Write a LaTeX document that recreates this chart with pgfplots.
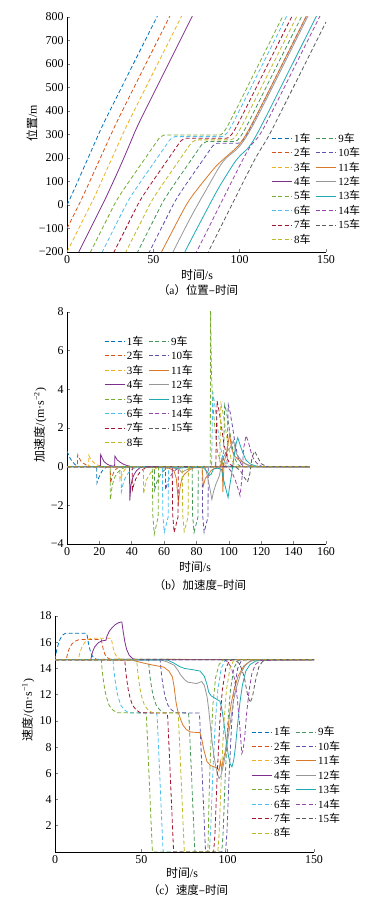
\documentclass[border=0pt]{standalone}
\usepackage{fontspec}
\setmainfont{Liberation Serif}
\newfontfamily\cjk{Noto Sans CJK SC}
\usepackage{pgfplots}
\pgfplotsset{compat=1.18}
\definecolor{C1}{RGB}{0,114,189}
\definecolor{C2}{RGB}{217,83,25}
\definecolor{C3}{RGB}{237,177,32}
\definecolor{C4}{RGB}{126,47,142}
\definecolor{C5}{RGB}{119,172,48}
\definecolor{C6}{RGB}{77,190,238}
\definecolor{C7}{RGB}{162,20,47}
\definecolor{C8}{RGB}{190,185,40}
\definecolor{C9}{RGB}{70,150,90}
\definecolor{C10}{RGB}{100,80,170}
\definecolor{C11}{RGB}{217,120,40}
\definecolor{C12}{RGB}{150,150,150}
\definecolor{C13}{RGB}{30,170,180}
\definecolor{C14}{RGB}{150,70,170}
\definecolor{C15}{RGB}{90,90,90}
\newcommand\che{{\cjk 车}}
\tikzset{
 dsh/.style={line width=0.8bp, dash pattern=on 4bp off 2.5bp},
 sld/.style={line width=0.8bp, solid},
 s1/.style={C1,dsh}, s2/.style={C2,dsh}, s3/.style={C3,dsh}, s4/.style={C4,sld},
 s5/.style={C5,dsh}, s6/.style={C6,dsh}, s7/.style={C7,dsh}, s8/.style={C8,dsh},
 s9/.style={C9,dsh}, s10/.style={C10,dsh}, s11/.style={C11,sld}, s12/.style={C12,sld},
 s13/.style={C13,sld}, s14/.style={C14,dsh}, s15/.style={C15,dsh}
}
\pgfplotsset{myax/.style={
 scale only axis, anchor=south west,
 axis lines*=left, axis line style={-, line width=0.6bp},
 tick align=inside, major tick length=3bp, tick style={line width=0.6bp},
 enlargelimits=false,
 tick label style={font=\fontsize{12}{13}\selectfont},
 /pgf/number format/assume math mode=true,
 legend columns=2,
 legend style={draw=none, fill=none, font=\fontsize{11}{12.5}\selectfont,
   /tikz/every even column/.append style={column sep=3bp},
   row sep=-0.3bp, inner sep=1bp, cells={anchor=west}},
 legend image code/.code={\draw[##1] (0bp,0bp) -- (20bp,0bp);},
}}
\begin{document}
\begin{tikzpicture}
\useasboundingbox (0,0) rectangle (378bp,912bp);
% ---------------- (a) position
\begin{axis}[myax, at={(67bp,660bp)}, width=259bp, height=235bp,
 xmin=0, xmax=150, ymin=-200, ymax=800,
 xtick={0,50,100,150},
 ytick={-200,-100,0,100,200,300,400,500,600,700,800},
 yticklabels={−200,−100,0,100,200,300,400,500,600,700,800},
 legend style={at={(0.784,0.52)}, anchor=north west}]
\addplot[s1] coordinates {(0,0)(1,15)(2,30.7)(3,46.8)(4.5,71.4)(6,96.3)(18.4,303.1)(20.4,335)(22.5,366.6)(24,388.7)(55,843.5)};
\addlegendentry{1\che}
\addplot[s9] coordinates {(0,-800)(54.1,-6.8)(55.1,7.1)(56.1,20)(57.1,32.1)(58.6,49.3)(60.6,71.4)(63.1,98.3)(77.3,249.4)(77.6,252.6)(78.5,260.6)(80.9,270)(96.6,270)(97.4,270.6)(98.6,275)(100.1,286.7)(101.6,303.3)(103.6,329.7)(105.6,358.3)(107.6,387.5)(150,1009.5)};
\addlegendentry{9\che}
\addplot[s2] coordinates {(0,-100)(6.5,-4.6)(7.5,10.4)(8.5,25.8)(10,49.4)(12,81.4)(14,113.7)(26.8,321.1)(28.8,352.3)(32,399.9)(62,840)};
\addlegendentry{2\che}
\addplot[s10] coordinates {(0,-900)(60.9,-6.8)(61.9,7.1)(62.9,20)(63.9,32.1)(65.4,49.3)(67.4,71.4)(69.9,98.3)(83.5,242.4)(83.8,245.6)(84.7,253.6)(87.1,263)(98.8,263)(99.6,263.6)(100.8,268)(102.3,279.7)(103.8,296.3)(105.8,322.7)(107.8,351.3)(109.8,380.5)(150,970.2)};
\addlegendentry{10\che}
\addplot[s3] coordinates {(0,-200)(13.4,-3.4)(14.4,11.5)(15.5,28.4)(17,52.1)(19,84.3)(21,116.8)(32.6,305.9)(34.6,337.3)(36,358.3)(38,387.9)(70,857.3)};
\addlegendentry{3\che}
\addplot[s11] coordinates {(0,-1000)(45,-341)(50,-268.3)(55,-196.4)(63,-82.8)(66,-41)(68,-13.8)(69,-0.8)(70,11.2)(71,22.4)(72.5,38.1)(74,53)(76,72.1)(78.5,95.2)(84,145.4)(86.2,164.1)(88,177.3)(90,190.8)(92,203.9)(94,216.8)(96.5,232.9)(98.5,246.9)(100,259.4)(102,279.9)(103.6,298.8)(106,329.6)(109.4,376.5)(113,428.3)(116,472.1)(150,970.9)};
\addlegendentry{11\che}
\addplot[s4] coordinates {(0,-300)(20.7,3.7)(21.7,18.7)(23,38.8)(25,70.4)(27,102.4)(29.5,142.7)(31.5,175.8)(33,201.3)(35,235.7)(37,270.6)(38.7,300.4)(39.5,314.1)(40.5,330.5)(41.5,346.2)(43,369)(45,398.8)(47,428.2)(75,839)};
\addlegendentry{4\che}
\addplot[s12] coordinates {(0,-1100)(61,-205.7)(65,-147.4)(69,-89.9)(71,-61.8)(72.8,-37.1)(75,-7.8)(77,18.3)(82,82.8)(85,121.6)(86.5,140.9)(88,159.3)(89,170.7)(90,181)(91,190)(92,197.9)(93,204.9)(94,211.2)(95,217)(96,222.7)(97,228.7)(98.5,238.9)(100,250.8)(102,269.6)(103.5,286)(105,304.1)(107.5,336.7)(110,371.4)(113,414.5)(116,458.3)(150,957.1)};
\addlegendentry{12\che}
\addplot[s5] coordinates {(0,-400)(26.8,-6.8)(27.8,7.1)(28.8,20)(29.8,32.1)(31.3,49.3)(33.3,71.4)(35.8,98.3)(52.7,277.4)(53,280.6)(53.9,288.6)(56.3,298)(88.5,298)(89.2,299.3)(90,303.9)(91.5,318)(93,336.4)(95,364)(97,392.9)(99,422.2)(150,1170.4)};
\addlegendentry{5\che}
\addplot[s13] coordinates {(0,-1200)(65,-247.1)(69,-189)(72,-146.2)(75,-104)(80,-34.3)(84,21.2)(86.5,55.2)(88,74.8)(89,87.3)(90.5,105.4)(93,134.9)(95.5,163.9)(96.5,175.2)(97.7,187.8)(99,199.9)(100.5,211.8)(101.5,218.8)(102.5,225.4)(103.5,232.1)(104.5,239.6)(105.5,248.3)(107,263.8)(108.5,281.8)(110.5,308.3)(113,343.4)(116,386.7)(120,445.1)(150,885.2)};
\addlegendentry{13\che}
\addplot[s6] coordinates {(0,-500)(33.6,-6.8)(34.6,7.1)(35.6,20)(36.6,32.1)(38.1,49.3)(40.1,71.4)(42.6,98.3)(58.9,270.4)(59.2,273.6)(60.1,281.6)(62.5,291)(89.3,291)(90.1,291.6)(91.3,296)(92.8,307.7)(94.3,324.3)(96.3,350.7)(98.3,379.3)(100.3,408.5)(150,1137.6)};
\addlegendentry{6\che}
\addplot[s14] coordinates {(0,-1300)(98,137.7)(100,166.9)(102,195.5)(104,222.8)(105.5,241.5)(107,257.6)(108.2,267.8)(109,273.9)(110,282.3)(111,292.1)(112.5,309.4)(114,328.9)(116,356.8)(119,400.2)(150,855)};
\addlegendentry{14\che}
\addplot[s7] coordinates {(0,-600)(40.4,-7)(41.4,6.9)(42.4,19.8)(43.4,31.9)(44.9,49.1)(46.9,71.2)(49.4,98.1)(65,263.4)(65.3,266.6)(66.2,274.6)(68.6,284)(91.9,284)(92.7,284.6)(93.9,289)(95.4,300.7)(96.9,317.3)(98.9,343.7)(100.9,372.3)(102.9,401.5)(150,1092.4)};
\addlegendentry{7\che}
\addplot[s15] coordinates {(0,-1400)(104,125.7)(107,169.2)(109.5,203.9)(111.5,229.3)(113,246.9)(114.3,262)(116,283.1)(118,310.2)(120,338.8)(123,382.6)(150,778.7)};
\addlegendentry{15\che}
\addplot[s8] coordinates {(0,-700)(47.3,-6.8)(48.3,7.1)(49.3,20)(50.3,32.1)(51.8,49.3)(53.8,71.4)(56.3,98.3)(71.2,256.4)(71.5,259.6)(72.4,267.6)(74.8,277)(94.3,277)(95.1,277.6)(96.3,282)(97.8,293.7)(99.3,310.3)(101.3,336.7)(103.3,365.3)(105.3,394.5)(150,1050.2)};
\addlegendentry{8\che}
\end{axis}
% ---------------- (b) acceleration
\begin{axis}[myax, at={(67bp,368bp)}, width=259bp, height=232bp,
 xmin=0, xmax=160, ymin=-4, ymax=8,
 xtick={0,20,40,60,80,100,120,140,160},
 ytick={-4,-2,0,2,4,6,8},
 yticklabels={−4,−2,0,2,4,6,8},
 legend style={at={(0.139,0.91)}, anchor=north west}]
\addplot[s1] coordinates {(0,0.8)(1,0.6)(2,0.42)(3,0.3)(4.5,0.15)(6,0.03)(8,0)(18.3,0)(18.5,-0.85)(19.5,-0.6)(20.5,-0.4)(21.5,-0.25)(23,-0.1)(25,0)(150,0)};
\addlegendentry{1\che}
\addplot[s9] coordinates {(0,0)(54,0)(54.1,-1.2)(54.6,-1.05)(55.1,-0.9)(56.1,-0.65)(57.1,-0.5)(58.6,-0.3)(60.6,-0.15)(63.1,-0.03)(64.1,0)(77.3,0)(77.6,-2.5)(78.5,-3.4)(80.9,-2.6)(81.1,0)(96.6,0)(97.4,3.2)(98.6,2.8)(100.1,2.05)(101.6,1.2)(103.6,0.44)(105.6,0.11)(107.6,0)(150,0)};
\addlegendentry{9\che}
\addplot[s2] coordinates {(0,0)(6.4,0)(6.6,0.62)(7.5,0.45)(8.5,0.3)(10,0.18)(12,0.08)(14,0.02)(16,0)(26.7,0)(26.9,-0.85)(27.8,-0.55)(28.8,-0.3)(30,-0.15)(32,-0.02)(33,0)(150,0)};
\addlegendentry{2\che}
\addplot[s10] coordinates {(0,0)(60.8,0)(60.9,-1.2)(61.4,-1.05)(61.9,-0.9)(62.9,-0.65)(63.9,-0.5)(65.4,-0.3)(67.4,-0.15)(69.9,-0.03)(70.9,0)(83.5,0)(83.8,-2.5)(84.7,-3.4)(87.1,-2.6)(87.3,0)(98.8,0)(99.6,3.2)(100.8,2.8)(102.3,2.05)(103.8,1.2)(105.8,0.44)(107.8,0.11)(109.8,0)(150,0)};
\addlegendentry{10\che}
\addplot[s3] coordinates {(0,0)(13.3,0)(13.5,0.58)(14.4,0.42)(15.5,0.3)(17,0.18)(19,0.08)(21,0.02)(23,0)(32.5,0)(32.7,-0.7)(33.6,-0.5)(34.6,-0.3)(36,-0.12)(38,-0.02)(39,0)(150,0)};
\addlegendentry{3\che}
\addplot[s11] coordinates {(0,0)(45,-0.02)(50,-0.05)(55,-0.04)(63,-0.08)(66,-0.2)(67.5,-0.6)(68.8,-1.8)(70,-1.0)(71,-0.6)(72.5,-0.4)(74,-0.28)(76,-0.15)(78.5,-0.05)(83.5,-0.05)(84.2,-1.0)(85.5,-0.6)(87,-0.45)(89,-0.2)(92,-0.05)(94,-0.1)(95,0.1)(95.8,0.5)(96.3,-1.3)(97,0.2)(98.5,0.7)(100.5,1.7)(101.5,1.0)(103,0.6)(106,0.35)(109,0.2)(112,0.08)(116,0.01)(120,0)(150,0)};
\addlegendentry{11\che}
\addplot[s4] coordinates {(0,0)(20.6,0)(20.8,0.63)(21.7,0.45)(23,0.25)(25,0.12)(27,0.05)(29.4,0.02)(29.6,0.55)(31,0.35)(33,0.22)(35,0.12)(37,0.06)(38.6,0.03)(38.8,-1.75)(39.5,-0.95)(40.5,-0.6)(41.5,-0.4)(43,-0.2)(45,-0.06)(47,0)(150,0)};
\addlegendentry{4\che}
\addplot[s12] coordinates {(0,0)(61,-0.01)(65,-0.06)(69,-0.12)(71,-0.3)(72.8,-0.2)(75,-0.12)(77,-0.05)(82,0)(85,0.02)(86.5,-0.4)(88,-1.0)(89.5,-1.7)(90.5,-1.3)(92,-0.9)(93,-0.7)(94,-0.5)(95,-0.1)(96,0.4)(97,0.55)(99,0.8)(101,1.0)(102.8,1.35)(104.5,0.7)(106,0.5)(108,0.3)(110,0.15)(113,0.05)(116,0)(150,0)};
\addlegendentry{12\che}
\addplot[s5] coordinates {(0,0)(26.7,0)(26.8,-1.7)(27.3,-1.4)(27.8,-1.05)(28.8,-0.7)(29.8,-0.5)(31.3,-0.3)(33.3,-0.15)(35.8,-0.03)(37,0)(52.7,0)(53,-2.5)(53.9,-3.5)(56.3,-2.6)(56.5,0)(88.5,0)(88.7,8.1)(89.2,5)(90,3.3)(91.5,1.9)(93,0.75)(95,0.25)(97,0.08)(99,0)(150,0)};
\addlegendentry{5\che}
\addplot[s13] coordinates {(0,0)(65,-0.02)(69,-0.08)(72,-0.06)(75,-0.03)(84,-0.03)(86.5,-0.25)(88,-0.45)(89,-0.4)(90.5,-0.12)(93,-0.08)(95.5,-0.15)(96.5,-0.6)(97.7,-1.0)(99.5,-1.6)(100.5,-1.0)(101.5,-0.5)(102.5,0.1)(103.5,0.7)(104.5,1.2)(105.5,1.5)(107,1.1)(108.5,0.75)(110.5,0.35)(113,0.15)(116,0.05)(120,0)(150,0)};
\addlegendentry{13\che}
\addplot[s6] coordinates {(0,0)(33.5,0)(33.6,-1.3)(34.1,-1.1)(34.6,-0.9)(35.6,-0.65)(36.6,-0.5)(38.1,-0.3)(40.1,-0.15)(42.6,-0.03)(43.6,0)(58.9,0)(59.2,-2.5)(60.1,-3.4)(62.5,-2.6)(62.7,0)(89.3,0)(90.1,3.85)(91.3,3.19)(92.8,2.2)(94.3,1.21)(96.3,0.44)(98.3,0.11)(100.3,0)(150,0)};
\addlegendentry{6\che}
\addplot[s14] coordinates {(0,0)(98,0)(100,-0.1)(102,-0.3)(104,-0.7)(105.5,-1.1)(106.9,-1.5)(108.2,-0.5)(109,0.9)(110.6,1.6)(112,1.3)(113.5,0.8)(115,0.45)(117,0.2)(119,0.06)(121,0)(150,0)};
\addlegendentry{14\che}
\addplot[s7] coordinates {(0,0)(40.3,0)(40.4,-1.2)(40.9,-1.05)(41.4,-0.9)(42.4,-0.65)(43.4,-0.5)(44.9,-0.3)(46.9,-0.15)(49.4,-0.03)(50.4,0)(65,0)(65.3,-2.5)(66.2,-3.4)(68.6,-2.6)(68.8,0)(91.9,0)(92.7,3.4)(93.9,2.9)(95.4,2.1)(96.9,1.2)(98.9,0.44)(100.9,0.11)(102.9,0)(150,0)};
\addlegendentry{7\che}
\addplot[s15] coordinates {(0,0)(104,0)(107,-0.2)(109.5,-0.55)(111.5,-0.8)(113,-0.35)(114.3,0.5)(116,0.8)(118,0.45)(120,0.15)(123,0.02)(125,0)(150,0)};
\addlegendentry{15\che}
\addplot[s8] coordinates {(0,0)(47.2,0)(47.3,-1.4)(47.8,-1.2)(48.3,-0.95)(49.3,-0.65)(50.3,-0.5)(51.8,-0.3)(53.8,-0.15)(56.3,-0.03)(57.3,0)(71.2,0)(71.5,-2.5)(72.4,-3.35)(74.8,-2.6)(75,0)(94.3,0)(95.1,3.25)(96.3,2.8)(97.8,2.05)(99.3,1.2)(101.3,0.44)(103.3,0.11)(105.3,0)(150,0)};
\addlegendentry{8\che}
\end{axis}
% ---------------- (c) speed
\begin{axis}[myax, at={(55bp,60bp)}, width=259bp, height=236bp,
 xmin=0, xmax=150, ymin=0, ymax=18,
 xtick={0,50,100,150},
 ytick={2,4,6,8,10,12,14,16,18},
 legend style={at={(0.753,0.545)}, anchor=north west}]
\addplot[s1] coordinates {(0,14.67)(1,15.4)(2,15.9)(3,16.25)(4.5,16.55)(6,16.68)(18.4,16.68)(19.4,15.9)(20.4,15.35)(21.4,15)(22.5,14.8)(24,14.7)(150,14.67)};
\addlegendentry{1\che}
\addplot[s9] coordinates {(0,14.67)(54.1,14.67)(54.6,13.9)(55.1,13.3)(56.1,12.4)(57.1,11.8)(58.6,11.2)(60.6,10.85)(63.1,10.62)(77.3,10.6)(77.6,10.22)(78.5,7.55)(80.9,0.29)(81.1,0)(96.6,0)(97.4,1.54)(98.6,5.76)(100.1,9.81)(101.6,12.36)(103.6,14.01)(105.6,14.56)(107.6,14.67)(150,14.67)};
\addlegendentry{9\che}
\addplot[s2] coordinates {(0,14.67)(6.5,14.67)(7.5,15.25)(8.5,15.6)(10,15.9)(12,16.1)(14,16.2)(26.8,16.2)(27.8,15.55)(28.8,15.1)(30,14.85)(32,14.7)(150,14.67)};
\addlegendentry{2\che}
\addplot[s10] coordinates {(0,14.67)(60.9,14.67)(61.4,13.9)(61.9,13.3)(62.9,12.4)(63.9,11.8)(65.4,11.2)(67.4,10.85)(69.9,10.62)(83.5,10.6)(83.8,10.22)(84.7,7.55)(87.1,0.29)(87.3,0)(98.8,0)(99.6,1.54)(100.8,5.76)(102.3,9.81)(103.8,12.36)(105.8,14.01)(107.8,14.56)(109.8,14.67)(150,14.67)};
\addlegendentry{10\che}
\addplot[s3] coordinates {(0,14.67)(13.4,14.67)(14.4,15.2)(15.5,15.6)(17,15.95)(19,16.2)(21,16.3)(32.6,16.3)(33.6,15.6)(34.6,15.15)(36,14.85)(38,14.7)(150,14.67)};
\addlegendentry{3\che}
\addplot[s11] coordinates {(0,14.67)(45,14.62)(50,14.45)(55,14.3)(63,14.1)(66,13.8)(68,13.35)(69,12.6)(70,11.5)(71,10.8)(72.5,10.2)(74,9.7)(76,9.35)(78.5,9.15)(84,9.1)(85,8.6)(86.2,7.8)(88,6.9)(90,6.6)(92,6.5)(94,6.4)(95,6.2)(95.8,6.9)(96.5,6.3)(97.2,6.9)(98.5,7.6)(100,9)(101,10.4)(102,11.3)(103.6,12.3)(106,13.4)(109.4,14.2)(113,14.55)(116,14.65)(150,14.67)};
\addlegendentry{11\che}
\addplot[s4] coordinates {(0,14.67)(20.7,14.67)(21.7,15.25)(23,15.65)(25,15.95)(27,16.1)(29.5,16.15)(30.2,16.5)(31.5,16.85)(33,17.1)(35,17.35)(37,17.5)(38.7,17.55)(39.5,16.8)(40.5,16)(41.5,15.45)(43,15)(45,14.75)(47,14.67)(150,14.67)};
\addlegendentry{4\che}
\addplot[s12] coordinates {(0,14.67)(61,14.65)(65,14.5)(69,14.25)(71,13.9)(72.8,13.5)(75,13.15)(77,12.95)(82,12.85)(85,13)(86.5,12.7)(88,11.9)(89,10.9)(90,9.6)(91,8.4)(92,7.4)(93,6.6)(94,6)(95,5.6)(96,5.8)(97,6.3)(98.5,7.3)(100,8.5)(102,10.3)(103.5,11.6)(105,12.5)(107.5,13.6)(110,14.2)(113,14.55)(116,14.65)(150,14.67)};
\addlegendentry{12\che}
\addplot[s5] coordinates {(0,14.67)(26.8,14.67)(27.3,13.9)(27.8,13.3)(28.8,12.4)(29.8,11.8)(31.3,11.2)(33.3,10.85)(35.8,10.62)(52.7,10.6)(53,10.22)(53.9,7.55)(56.3,0.29)(56.5,0)(88.5,0)(88.7,0.81)(89.2,4.09)(90,7.41)(91.5,11.31)(93,13.29)(95,14.29)(97,14.62)(99,14.67)(150,14.67)};
\addlegendentry{5\che}
\addplot[s13] coordinates {(0,14.67)(65,14.65)(69,14.4)(72,14.15)(75,14)(80,13.9)(84,13.8)(86.5,13.4)(88,12.8)(89,12.2)(90.5,11.9)(93,11.7)(95.5,11.5)(96.5,11)(97.7,10)(99,8.6)(100.5,7.3)(101.5,6.7)(102.5,6.5)(103.5,7)(104.5,8)(105.5,9.4)(107,11.3)(108.5,12.7)(110.5,13.8)(113,14.3)(116,14.55)(120,14.65)(150,14.67)};
\addlegendentry{13\che}
\addplot[s6] coordinates {(0,14.67)(33.6,14.67)(34.1,13.9)(34.6,13.3)(35.6,12.4)(36.6,11.8)(38.1,11.2)(40.1,10.85)(42.6,10.62)(58.9,10.6)(59.2,10.22)(60.1,7.55)(62.5,0.29)(62.7,0)(89.3,0)(90.1,1.54)(91.3,5.76)(92.8,9.81)(94.3,12.36)(96.3,14.01)(98.3,14.56)(100.3,14.67)(150,14.67)};
\addlegendentry{6\che}
\addplot[s14] coordinates {(0,14.67)(98,14.67)(100,14.5)(102,14.1)(104,13.2)(105.5,11.8)(107,9.6)(108.2,7.5)(109,7.8)(110,9)(111,10.6)(112.5,12.4)(114,13.6)(116,14.3)(119,14.6)(150,14.67)};
\addlegendentry{14\che}
\addplot[s7] coordinates {(0,14.67)(40.4,14.67)(40.9,13.9)(41.4,13.3)(42.4,12.4)(43.4,11.8)(44.9,11.2)(46.9,10.85)(49.4,10.62)(65,10.6)(65.3,10.22)(66.2,7.55)(68.6,0.29)(68.8,0)(91.9,0)(92.7,1.54)(93.9,5.76)(95.4,9.81)(96.9,12.36)(98.9,14.01)(100.9,14.56)(102.9,14.67)(150,14.67)};
\addlegendentry{7\che}
\addplot[s15] coordinates {(0,14.67)(104,14.67)(107,14.35)(109.5,13.4)(111.5,12)(113,11.4)(114.3,11.8)(116,13)(118,14.1)(120,14.5)(123,14.67)(150,14.67)};
\addlegendentry{15\che}
\addplot[s8] coordinates {(0,14.67)(47.3,14.67)(47.8,13.9)(48.3,13.3)(49.3,12.4)(50.3,11.8)(51.8,11.2)(53.8,10.85)(56.3,10.62)(71.2,10.6)(71.5,10.22)(72.4,7.55)(74.8,0.29)(75,0)(94.3,0)(95.1,1.54)(96.3,5.76)(97.8,9.81)(99.3,12.36)(101.3,14.01)(103.3,14.56)(105.3,14.67)(150,14.67)};
\addlegendentry{8\che}
\end{axis}
% ---------------- labels and captions
\tikzset{lab/.style={font=\fontsize{12}{13}\selectfont, inner sep=0pt},
         capt/.style={font=\fontsize{11.5}{13}\selectfont, inner sep=0pt}}
\node[lab] at (197bp,637bp) {{\cjk 时间}/s};
\node[lab, rotate=90] at (32bp,789bp) {{\cjk 位置}/m};
\node[capt] at (198bp,622bp) {{\cjk （}a{\cjk ）位置–时间}};
\node[lab] at (195bp,345bp) {{\cjk 时间}/s};
\node[lab, rotate=90] at (40bp,487bp) {{\cjk 加速度}/(m·s\textsuperscript{−2})};
\node[capt] at (200bp,327bp) {{\cjk （}b{\cjk ）加速度–时间}};
\node[lab] at (182bp,39bp) {{\cjk 时间}/s};
\node[lab, rotate=90] at (28bp,202bp) {{\cjk 速度}/(m·s\textsuperscript{−1})};
\node[capt] at (188bp,22bp) {{\cjk （}c{\cjk ）速度–时间}};
\end{tikzpicture}
\end{document}
